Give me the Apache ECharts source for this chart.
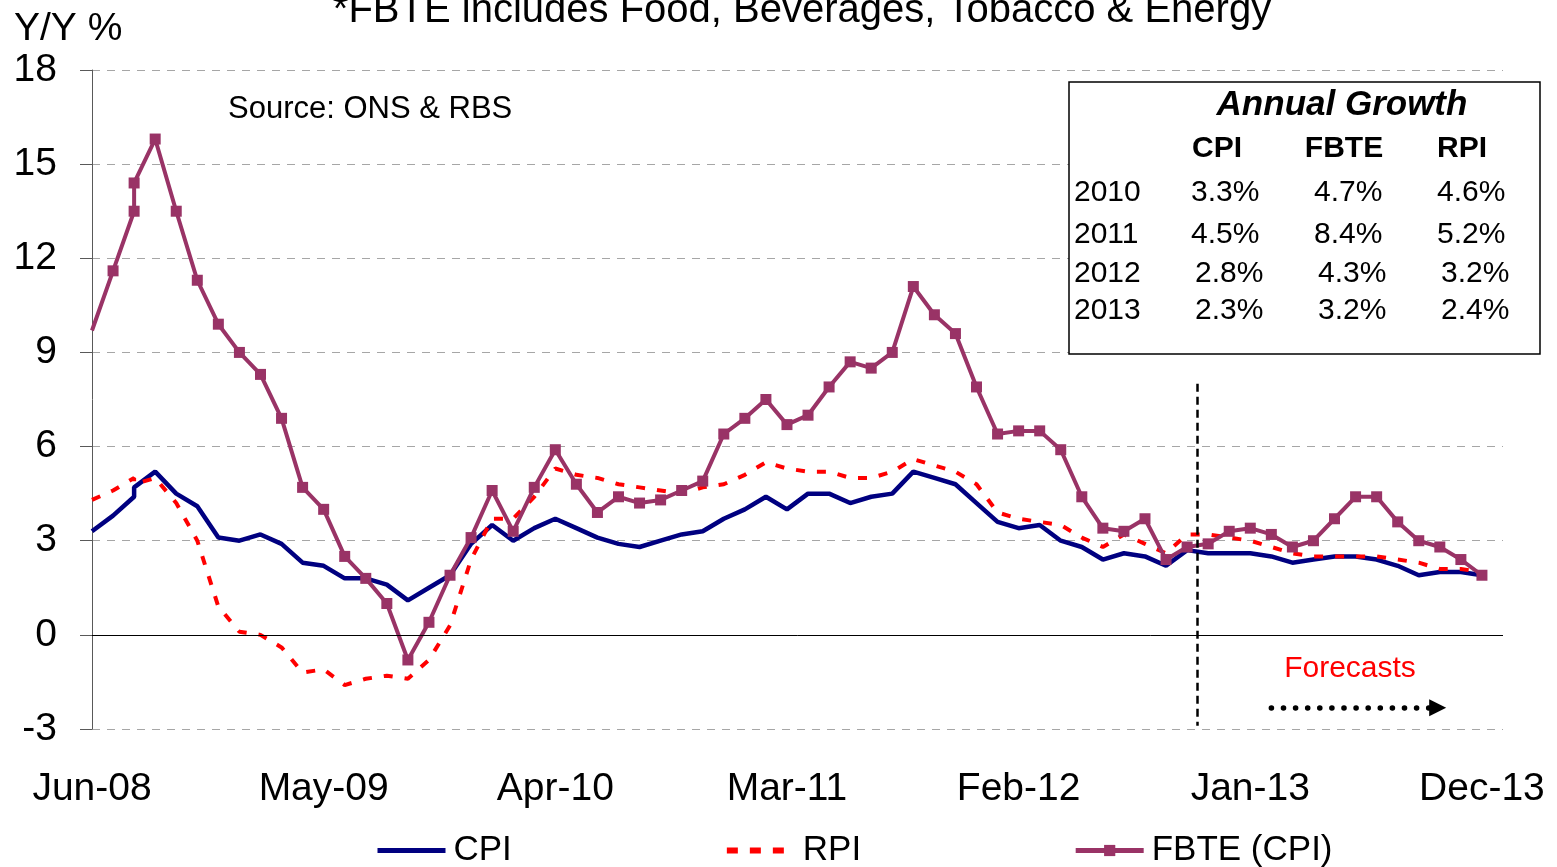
<!DOCTYPE html>
<html>
<head>
<meta charset="utf-8">
<title>CPI, RPI and FBTE</title>
<script src="https://cdn.jsdelivr.net/npm/echarts/dist/echarts.min.js"></script>
<style>
    html, body { margin: 0; padding: 0; background: #fff; }
    #chart { width: 1557px; height: 867px; }
</style>
</head>
<body>
<div id="chart"></div>
<script>
    // month slot of every point (two readings share the Aug-08 slot)
    var xPos = [0, 1, 2, 2, 3, 4, 5, 6, 7, 8, 9, 10, 11, 12, 13, 14, 15, 16, 17, 18, 19, 20,
        21, 22, 23, 24, 25, 26, 27, 28, 29, 30, 31, 32, 33, 34, 35, 36, 37, 38, 39, 40,
        41, 42, 43, 44, 45, 46, 47, 48, 49, 50, 51, 52, 53, 54, 55, 56, 57, 58, 59, 60,
        61, 62, 63, 64, 65, 66];
    var cpi = [3.3, 3.8, 4.4, 4.7, 5.2, 4.5, 4.1, 3.1, 3.0, 3.2, 2.9, 2.3, 2.2, 1.8, 1.8, 1.6, 1.1,
        1.5, 1.9, 2.9, 3.5, 3.0, 3.4, 3.7, 3.4, 3.1, 2.9, 2.8, 3.0, 3.2, 3.3, 3.7, 4.0, 4.4,
        4.0, 4.5, 4.5, 4.2, 4.4, 4.5, 5.2, 5.0, 4.8, 4.2, 3.6, 3.4, 3.5, 3.0, 2.8, 2.4, 2.6,
        2.5, 2.2, 2.7, 2.6, 2.6, 2.6, 2.5, 2.3, 2.4, 2.5, 2.5, 2.4, 2.2, 1.9, 2.0, 2.0, 1.9];
    var rpi = [4.3, 4.6, 5.0, 4.8, 5.0, 4.2, 3.0, 0.9, 0.1, 0.0, -0.4, -1.2, -1.1, -1.6, -1.4, -1.3, -1.4,
        -0.8, 0.3, 2.4, 3.7, 3.7, 4.4, 5.3, 5.1, 5.0, 4.8, 4.7, 4.6, 4.5, 4.7, 4.8, 5.1, 5.5,
        5.3, 5.2, 5.2, 5.0, 5.0, 5.2, 5.6, 5.4, 5.2, 4.8, 3.9, 3.7, 3.6, 3.5, 3.1, 2.8, 3.2,
        2.9, 2.6, 3.2, 3.2, 3.1, 3.0, 2.8, 2.6, 2.5, 2.5, 2.5, 2.5, 2.4, 2.3, 2.1, 2.1, 2.0];
    var fbte = [9.7, 11.6, 13.5, 14.4, 15.8, 13.5, 11.3, 9.9, 9.0, 8.3, 6.9, 4.7, 4.0, 2.5, 1.8, 1.0, -0.8,
        0.4, 1.9, 3.1, 4.6, 3.3, 4.7, 5.9, 4.8, 3.9, 4.4, 4.2, 4.3, 4.6, 4.9, 6.4, 6.9, 7.5,
        6.7, 7.0, 7.9, 8.7, 8.5, 9.0, 11.1, 10.2, 9.6, 7.9, 6.4, 6.5, 6.5, 5.9, 4.4, 3.4, 3.3,
        3.7, 2.4, 2.8, 2.9, 3.3, 3.4, 3.2, 2.8, 3.0, 3.7, 4.4, 4.4, 3.6, 3.0, 2.8, 2.4, 1.9];
    var tickLabels = ['Jun-08', 'May-09', 'Apr-10', 'Mar-11', 'Feb-12', 'Jan-13', 'Dec-13'];

    var tableYears = ['2010', '2011', '2012', '2013'];
    var tableCpi = ['3.3%', '4.5%', '2.8%', '2.3%'];
    var tableFbte = ['4.7%', '8.4%', '4.3%', '3.2%'];
    var tableRpi = ['4.6%', '5.2%', '3.2%', '2.4%'];

    var font = '"Liberation Sans", Arial, sans-serif';

    function pairs(vals) {
        return vals.map(function (v, i) {
            return [xPos[i], v];
        });
    }

    var fbteData = pairs(fbte).map(function (p, i) {
        return i === 0 ? {value: p, symbol: 'none'} : p;
    });

    // annual growth box
    var rowBase = [203, 245, 284, 321];
    var tableItems = [
        {type: 'rect', z: 100, shape: {x: 1069, y: 82, width: 471, height: 272},
            style: {fill: '#fff', stroke: '#000', lineWidth: 1.5}},
        {type: 'text', z: 101, x: 1342, y: 105, style: {text: 'Annual Growth', fill: '#000',
            font: 'italic bold 35px ' + font, textAlign: 'center', textVerticalAlign: 'middle'}},
        {type: 'text', z: 101, x: 1217, y: 149, style: {text: 'CPI', fill: '#000',
            font: 'bold 30px ' + font, textAlign: 'center', textVerticalAlign: 'middle'}},
        {type: 'text', z: 101, x: 1344, y: 149, style: {text: 'FBTE', fill: '#000',
            font: 'bold 30px ' + font, textAlign: 'center', textVerticalAlign: 'middle'}},
        {type: 'text', z: 101, x: 1462, y: 149, style: {text: 'RPI', fill: '#000',
            font: 'bold 30px ' + font, textAlign: 'center', textVerticalAlign: 'middle'}}
    ];
    tableYears.forEach(function (yr, r) {
        var y = rowBase[r] - 10.5;
        var shift = r < 2 ? 0 : 4;
        var cells = [[1074, yr], [1191 + shift, tableCpi[r]], [1314 + shift, tableFbte[r]], [1437 + shift, tableRpi[r]]];
        cells.forEach(function (c) {
            tableItems.push({type: 'text', z: 101, x: c[0], y: y, style: {text: c[1], fill: '#000',
                font: '30px ' + font, textAlign: 'left', textVerticalAlign: 'middle'}});
        });
    });

    var option = {
        animation: false,
        backgroundColor: '#fff',
        grid: {left: 92, right: 54, top: 70, bottom: 138},
        legend: {
            top: 828, left: 370,
            itemWidth: 68, itemHeight: 14, itemGap: 212,
            textStyle: {fontSize: 35, color: '#000', fontFamily: font, padding: [0, 0, 0, 3]},
            data: [
                {name: 'CPI', itemStyle: {opacity: 0}, lineStyle: {width: 5}},
                {name: 'RPI', itemStyle: {opacity: 0}, lineStyle: {width: 6, type: [11, 12]}},
                {name: 'FBTE (CPI)', lineStyle: {width: 5}}
            ]
        },
        xAxis: {
            type: 'value', min: 0, max: 67, interval: 11,
            axisLine: {show: false}, axisTick: {show: false}, splitLine: {show: false},
            axisLabel: {
                fontSize: 39, color: '#000', fontFamily: font, margin: 41, showMaxLabel: false,
                formatter: function (v) {
                    return v % 11 === 0 ? tickLabels[v / 11] : '';
                }
            }
        },
        yAxis: {
            type: 'value', min: -3, max: 18, interval: 3,
            axisLine: {show: true, lineStyle: {color: '#595959', width: 1}},
            axisTick: {show: true, length: 12, lineStyle: {color: '#595959'}},
            splitLine: {lineStyle: {color: '#a6a6a6', type: [8, 7], width: 1}},
            axisLabel: {fontSize: 39, color: '#000', fontFamily: font, margin: 35}
        },
        graphic: [
            {type: 'text', x: 802, y: 11, style: {text: '*FBTE includes Food, Beverages, Tobacco & Energy',
                fill: '#000', font: '40px ' + font, textAlign: 'center', textVerticalAlign: 'middle'}},
            {type: 'text', x: 14, y: 29, style: {text: 'Y/Y %', fill: '#000',
                font: '39px ' + font, textAlign: 'left', textVerticalAlign: 'middle'}},
            {type: 'text', x: 228, y: 109, style: {text: 'Source: ONS & RBS', fill: '#000',
                font: '31px ' + font, textAlign: 'left', textVerticalAlign: 'middle'}},
            {type: 'text', x: 1350, y: 669, style: {text: 'Forecasts', fill: '#ff0000',
                font: '30px ' + font, textAlign: 'center', textVerticalAlign: 'middle'}}
        ].concat(tableItems),
        series: [
            {
                name: 'CPI', type: 'line', data: pairs(cpi), symbol: 'none', z: 2,
                lineStyle: {color: '#000080', width: 4.5},
                itemStyle: {color: '#000080'},
                markLine: {
                    silent: true, symbol: ['none', 'none'], label: {show: false},
                    data: [
                        [{coord: [0, 0]}, {coord: [67, 0]}],
                        [{coord: [52.5, 8.0]}, {coord: [52.5, -2.9]}],
                        [{coord: [56, -2.32]}, {coord: [63.9, -2.32], symbol: 'triangle', symbolSize: 17}]
                    ].map(function (d, k) {
                        var styles = [
                            {color: '#000', type: 'solid', width: 1},
                            {color: '#000', type: [8, 5], width: 2.5},
                            {color: '#000', type: [0.1, 12], cap: 'round', width: 5.5}
                        ];
                        d[0].lineStyle = styles[k];
                        return d;
                    })
                }
            },
            {
                name: 'RPI', type: 'line', data: pairs(rpi), symbol: 'none', z: 3,
                lineStyle: {color: '#ff0000', width: 4, type: [9, 12]},
                itemStyle: {color: '#ff0000'}
            },
            {
                name: 'FBTE (CPI)', type: 'line', data: fbteData, z: 4,
                symbol: 'rect', symbolSize: 11, showAllSymbol: true,
                lineStyle: {color: '#993366', width: 4},
                itemStyle: {color: '#993366'}
            }
        ]
    };

    var chart = echarts.init(document.getElementById('chart'));
    chart.setOption(option);
</script>
</body>
</html>
